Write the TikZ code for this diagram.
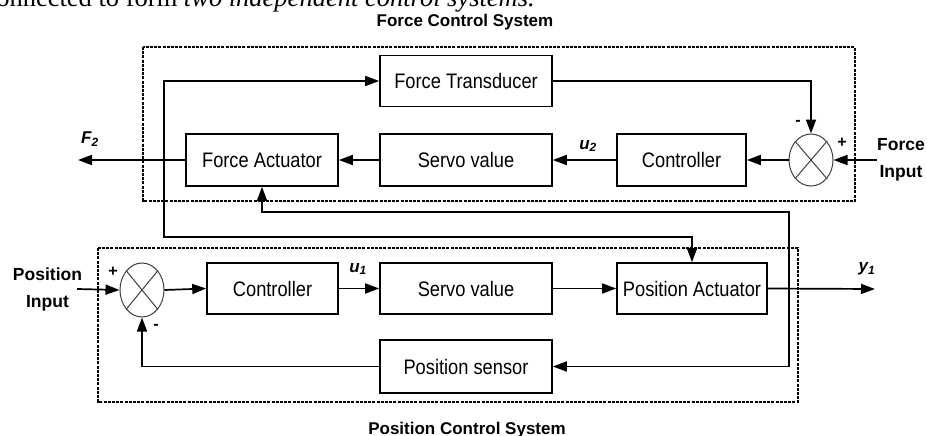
\documentclass[tikz,border=0pt]{standalone}
\usepackage{fontspec}
\setmainfont{Liberation Sans}
\newfontfamily\bodyserif{Liberation Serif}
\newfontfamily\blockfont[FakeStretch=0.87]{Liberation Sans}
\usetikzlibrary{arrows.meta,shapes.geometric}

\tikzset{
  blockbox/.style={draw, line width=1.6pt, inner sep=0pt, align=center,
                   font=\fontsize{21}{23}\blockfont},
  sumjunc/.style={draw=black!75, line width=1pt, ellipse, inner sep=0pt},
  wire/.style={line width=1.7pt},
  flow/.style={wire, -{Triangle[length=14pt,width=10pt]}},
  groupbox/.style={line width=1.3pt, dash pattern=on 3pt off 1.2pt},
  boldlabel/.style={font=\fontsize{17.5}{27}\selectfont\bfseries, align=center, inner sep=0pt},
  signal/.style={font=\fontsize{17}{19}\selectfont\bfseries\itshape, inner sep=0pt},
  sign/.style={font=\fontsize{16}{17}\selectfont\bfseries, inner sep=0pt},
  grouptitle/.style={anchor=base, inner sep=0pt, font=\fontsize{17}{19}\selectfont\bfseries},
}

\newcommand{\crossout}[1]{%
  \draw[draw=black!75, line width=1pt] (#1.north east) -- (#1.south west)
        (#1.north west) -- (#1.south east);}

\begin{document}
\begin{tikzpicture}[x=1pt,y=-1pt]
\useasboundingbox (0,0) rectangle (927,436);
\fill[white] (0,0) rectangle (927,436);

% running text of the page above the figure
\begin{scope}
  \clip (0,0) rectangle (927,436);
  \node[anchor=base east, inner sep=0pt, font=\fontsize{26.5}{28}\bodyserif] (pagetext) at (535,7)
    {connected to form \textit{two independent control systems.}};
\end{scope}

% group frames and titles
\draw[groupbox] (143,47) rectangle (855,201);
\draw[groupbox] (98,248) rectangle (798,402);
\node[grouptitle] (ftitle) at (465,27) {Force Control System};
\node[grouptitle] (ptitle) at (467,434) {Position Control System};

% force loop blocks
\node[blockbox, minimum width=172pt, minimum height=51pt] (ft)  at (466,81)  {Force Transducer};
\node[blockbox, minimum width=152pt, minimum height=52pt] (fa)  at (262,160) {Force Actuator};
\node[blockbox, minimum width=172pt, minimum height=52pt] (sv2) at (466,160) {Servo value};
\node[blockbox, minimum width=129pt, minimum height=52pt] (c2)  at (681.5,160) {Controller};
\node[sumjunc, minimum width=44pt, minimum height=52pt] (s2) at (811,160) {};
\crossout{s2}
\node[boldlabel] (fin) at (901,160) {Force\\Input};

% position loop blocks
\node[boldlabel] (pin) at (47.5,289) {Position\\Input};
\node[sumjunc, minimum width=44pt, minimum height=54pt] (s1) at (142,290) {};
\crossout{s1}
\node[blockbox, minimum width=131pt, minimum height=51pt] (c1)  at (272.5,288.5) {Controller};
\node[blockbox, minimum width=172pt, minimum height=51pt] (sv1) at (466,288.5) {Servo value};
\node[blockbox, minimum width=150pt, minimum height=51pt] (pa)  at (692,288.5) {Position Actuator};
\node[blockbox, minimum width=172pt, minimum height=53pt] (pse) at (466,366.5) {Position sensor};

% branch points and free ends
\coordinate (f2end) at (78,160);
\coordinate (y1end) at (875,289);
\coordinate (ftap) at (164,160);
\coordinate (flow) at (164,237);
\coordinate (ytap) at (789,289);
\coordinate (yhigh) at (789,212);

% force loop connectors
\draw[flow] (fin.west) -- (s2.east);
\draw[flow] (s2.west) -- (c2.east);
\draw[flow] (c2.west) -- (sv2.east);
\draw[flow] (sv2.west) -- (fa.east);
\draw[flow] (fa.west) -- (f2end);
\draw[flow] (ft.east) -| (s2.north);
\draw[flow] (ftap) |- (ft.west);
\draw[flow] (ftap) -- (flow) -| (pa.north);

% position loop connectors
\draw[flow] (pin.east) ++(-5,0) -- (s1.west);
\draw[flow] (s1.east) -- (c1.west);
\draw[flow] (c1.east) -- (sv1.west);
\draw[flow] (sv1.east) -- (pa.west);
\draw[flow] (pa.east) -- (y1end);
\draw[flow] (ytap) |- (pse.east);
\draw[flow] (ytap) -- (yhigh) -| (fa.south);
\draw[flow] (pse.west) -| (s1.south);

% signal names and signs
\node[signal] (lf2) at (90,139) {F\textsubscript{2}};
\node[signal] (lu2) at (588,146) {u\textsubscript{2}};
\node[signal] (lu1) at (358,269) {u\textsubscript{1}};
\node[signal] (ly1) at (867,269) {y\textsubscript{1}};
\node[sign] (m2) at (798,123) {-};
\node[sign] (p2) at (842,143) {+};
\node[sign] (p1) at (113,272) {+};
\node[sign] (m1) at (156,327) {-};
\end{tikzpicture}
\end{document}
